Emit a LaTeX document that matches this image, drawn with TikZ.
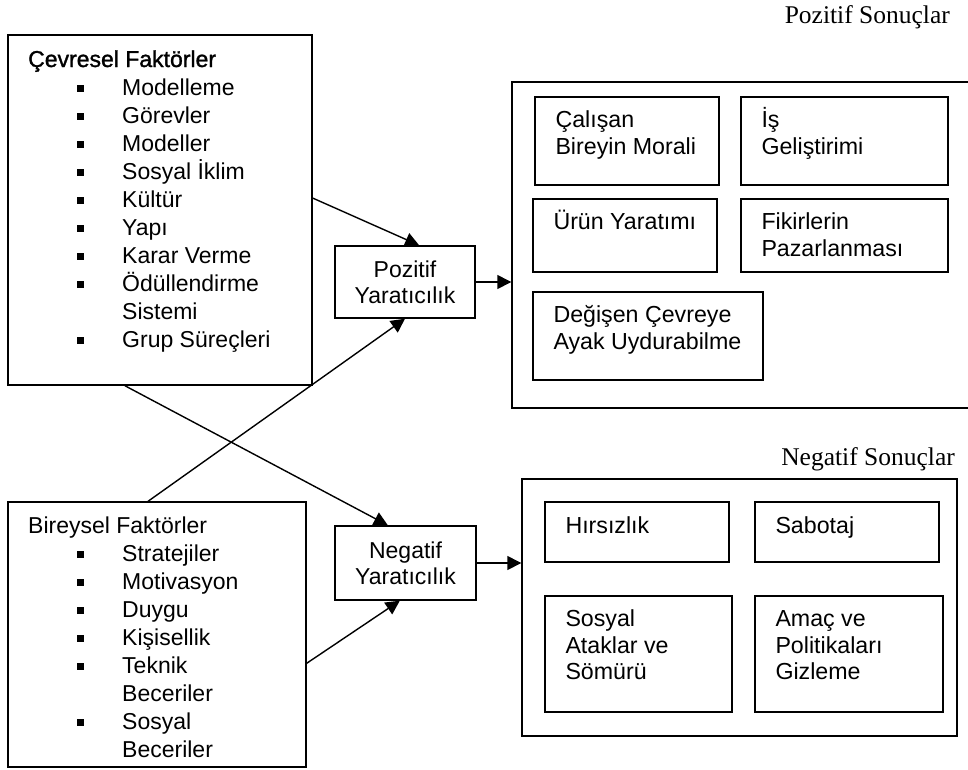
\documentclass[tikz,border=0pt]{standalone}
\usepackage{fontspec}
\setmainfont{Liberation Sans}
\newfontfamily\timesfont{Liberation Serif}
\newfontfamily\koyufont[FakeBold=1.3]{Liberation Sans}
\usetikzlibrary{arrows.meta,positioning,calc}

\newcommand{\satirlar}[1]{\begin{tabular}[t]{@{}l@{}}#1\end{tabular}}
\newcommand{\madde}{\hspace*{48.5pt}\makebox[45.5pt][l]{\rule[3pt]{7pt}{7pt}}}
\newcommand{\devam}{\hspace*{94pt}}

\begin{document}
\begin{tikzpicture}[x=1pt,y=-1pt,
  kutu/.style={draw, line width=1.4pt, inner sep=0pt},
  yazi/.style={inner sep=0pt, anchor=base west, font=\fontsize{23.2}{26.8}\selectfont},
  liste/.style={inner sep=0pt, anchor=base west, font=\fontsize{23}{28}\selectfont},
  baslik/.style={inner sep=0pt, anchor=base east, font=\timesfont\fontsize{25.5}{30}\selectfont},
  ok/.style={line width=1.4pt, -{Triangle[length=14pt,width=14pt]}}
]
\useasboundingbox (0,0) rectangle (968,769);

% faktorler
\node[kutu, minimum width=304pt, minimum height=350pt] (cevresel) at (160,210) {};
\node[kutu, minimum width=298pt, minimum height=265pt] (bireysel) at (157,634.5) {};
\node[liste] (cevreselYazi) at (28,67) {\satirlar{{\koyufont Çevresel Faktörler}\\
  \madde Modelleme\\ \madde Görevler\\ \madde Modeller\\ \madde Sosyal İklim\\
  \madde Kültür\\ \madde Yapı\\ \madde Karar Verme\\ \madde Ödüllendirme\\
  \devam Sistemi\\ \madde Grup Süreçleri}};
\node[liste] (bireyselYazi) at (28,533) {\satirlar{Bireysel Faktörler\\
  \madde Stratejiler\\ \madde Motivasyon\\ \madde Duygu\\ \madde Kişisellik\\
  \madde Teknik\\ \devam Beceriler\\ \madde Sosyal\\ \devam Beceriler}};

% yaraticilik
\node[kutu, minimum width=140pt, minimum height=72pt, align=center,
  font=\fontsize{23}{26}\selectfont] (pozYar) at (405,282) {Pozitif\\Yaratıcılık};
\node[kutu, minimum width=141pt, minimum height=74pt, align=center,
  font=\fontsize{23}{26}\selectfont] (negYar) at (405.5,563) {Negatif\\Yaratıcılık};

% sonuclar
\node[baslik] (pozBaslik) at (950,23) {Pozitif Sonuçlar};
\node[baslik] (negBaslik) at (955,465) {Negatif Sonuçlar};
\node[kutu, minimum width=463pt, minimum height=326pt] (pozKutu) at (743.5,245) {};
\node[kutu, minimum width=435pt, minimum height=257pt] (negKutu) at (739.5,607.5) {};

\node[kutu, minimum width=184pt, minimum height=88pt] (moral) at (627,141) {};
\node[kutu, minimum width=207pt, minimum height=88pt] (isGel) at (844.5,141) {};
\node[kutu, minimum width=184pt, minimum height=73pt] (urun) at (625,235.5) {};
\node[kutu, minimum width=207pt, minimum height=73pt] (fikir) at (844.5,235.5) {};
\node[kutu, minimum width=230pt, minimum height=88pt] (cevre) at (648,336) {};
\node[kutu, minimum width=184pt, minimum height=60pt] (hirsiz) at (637,532) {};
\node[kutu, minimum width=184pt, minimum height=60pt] (sabotaj) at (847,532) {};
\node[kutu, minimum width=187pt, minimum height=116pt] (somuru) at (638.5,654) {};
\node[kutu, minimum width=188pt, minimum height=116pt] (gizle) at (849,654) {};

\node[yazi] (moralYazi) at ([shift={(21,31)}]moral.north west) {\satirlar{Çalışan\\Bireyin Morali}};
\node[yazi] (isGelYazi) at ([shift={(21,31)}]isGel.north west) {\satirlar{İş\\Geliştirimi}};
\node[yazi] (urunYazi) at ([shift={(21,31)}]urun.north west) {\satirlar{Ürün Yaratımı}};
\node[yazi] (fikirYazi) at ([shift={(21,31)}]fikir.north west) {\satirlar{Fikirlerin\\Pazarlanması}};
\node[yazi] (cevreYazi) at ([shift={(21,31)}]cevre.north west) {\satirlar{Değişen Çevreye\\Ayak Uydurabilme}};
\node[yazi] (hirsizYazi) at ([shift={(21,32)}]hirsiz.north west) {\satirlar{Hırsızlık}};
\node[yazi] (sabotajYazi) at ([shift={(21,32)}]sabotaj.north west) {\satirlar{Sabotaj}};
\node[yazi] (somuruYazi) at ([shift={(21,31)}]somuru.north west) {\satirlar{Sosyal\\Ataklar ve\\Sömürü}};
\node[yazi] (gizleYazi) at ([shift={(21,31)}]gizle.north west) {\satirlar{Amaç ve\\Politikaları\\Gizleme}};

% oklar
\draw[ok] ($(cevresel.north east)!0.466!(cevresel.south east)$) -- ($(pozYar.north west)!0.6!(pozYar.north east)$);
\draw[ok] ($(bireysel.north west)!0.47!(bireysel.north east)$) -- (pozYar.south);
\draw[ok] ($(cevresel.south west)!0.385!(cevresel.south east)$) -- ($(negYar.north west)!0.376!(negYar.north east)$);
\draw[ok] ($(bireysel.north east)!0.608!(bireysel.south east)$) -- ($(negYar.south west)!0.46!(negYar.south east)$);
\draw[ok] (pozYar.east) -- (pozYar.east -| pozKutu.west);
\draw[ok] (negYar.east) -- (negYar.east -| negKutu.west);
\end{tikzpicture}
\end{document}
